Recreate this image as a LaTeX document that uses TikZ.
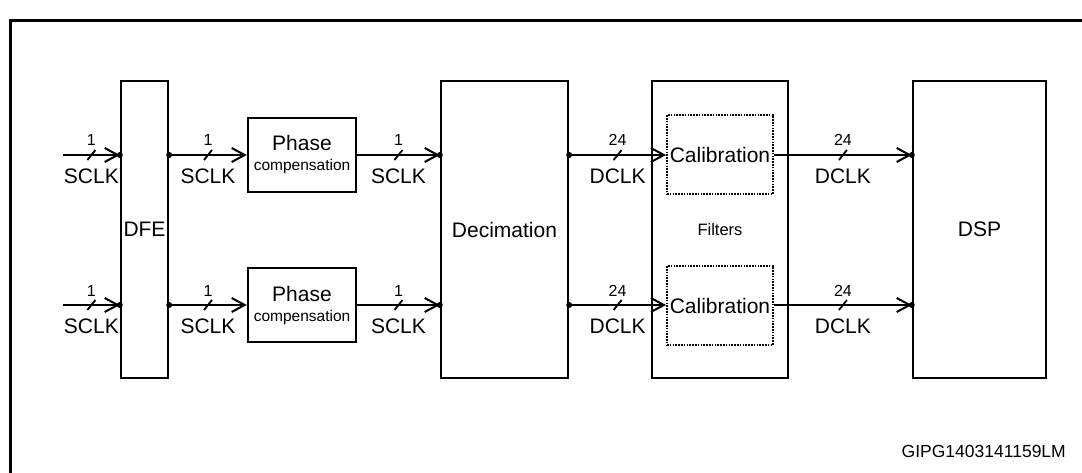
\documentclass[tikz,border=0pt]{standalone}
\usepackage{fontspec}
\setmainfont{Liberation Sans}
\usetikzlibrary{arrows.meta}

\tikzset{pics/barra/.style={code={\draw[-, line width=1.8pt] (-4,5) -- (4,-5);}}}

\begin{document}
\begin{tikzpicture}[
        x=1pt, y=-1pt,
        every node/.style={align=center, inner sep=0pt, font=\fontsize{21}{24}\selectfont},
        bloque/.style={draw, line width=2.4pt, minimum width=#1, minimum height=297pt},
        caja/.style={draw, line width=2.4pt, minimum width=108pt, minimum height=74pt},
        calib/.style={draw, line width=2pt, dash pattern=on 1.6pt off 1.2pt, minimum width=106pt, minimum height=79pt},
        flecha/.style={-{Straight Barb[length=13pt,width=14pt,line width=2pt]}, line width=2pt},
        ancho/.style={above=8pt, font=\fontsize{16}{18}\selectfont},
        reloj/.style={below=13pt}
    ]
    \useasboundingbox (0,0) rectangle (1082,473);
    \draw[line width=3pt] (10,480) -- (10,21) -- (1090,21);

    \node[bloque=47pt] (DFE) at (144.5,229.5) {DFE};
    \node[caja] (F1) at (302,155) {Phase\\[-4pt]{\fontsize{15.5}{17}\selectfont compensation}};
    \node[caja] (F2) at (302,305) {Phase\\[-4pt]{\fontsize{15.5}{17}\selectfont compensation}};
    \node[bloque=127pt] (Dec) at (504.5,229.5) {Decimation};
    \node[bloque=136pt, font=\fontsize{16.5}{18}\selectfont] (Fil) at (720,229.5) {Filters};
    \node[calib] (C1) at (720,154.5) {Calibration};
    \node[calib] (C2) at (720,305.5) {Calibration};
    \node[bloque=133pt] (DSP) at (979.5,229.5) {DSP};
    \node[anchor=base east, font=\fontsize{17.5}{20}\selectfont] (ref) at (1066,457) {GIPG1403141159LM};

    \coordinate (e1) at (63,155);
    \coordinate (e2) at (63,305);

    \foreach \i in {1,2}{
        \draw[flecha] (e\i) -- (DFE.west |- e\i) pic[midway]{barra} node[midway,ancho]{1} node[midway,reloj]{SCLK};
        \draw[flecha] (DFE.east |- e\i) -- (F\i.west |- e\i) pic[midway]{barra} node[midway,ancho]{1} node[midway,reloj]{SCLK};
        \draw[flecha] (F\i.east |- e\i) -- (Dec.west |- e\i) pic[midway]{barra} node[midway,ancho]{1} node[midway,reloj]{SCLK};
        \draw[flecha] (Dec.east |- e\i) -- (C\i.west |- e\i) pic[midway]{barra} node[midway,ancho]{24} node[midway,reloj]{DCLK};
        \draw[flecha] (C\i.east |- e\i) -- (DSP.west |- e\i) pic[midway]{barra} node[midway,ancho]{24} node[midway,reloj]{DCLK};
        \foreach \n in {DFE.west, DFE.east, Dec.west, Dec.east, DSP.west}
            \fill (\n |- e\i) circle (3pt);
    }
\end{tikzpicture}
\end{document}
